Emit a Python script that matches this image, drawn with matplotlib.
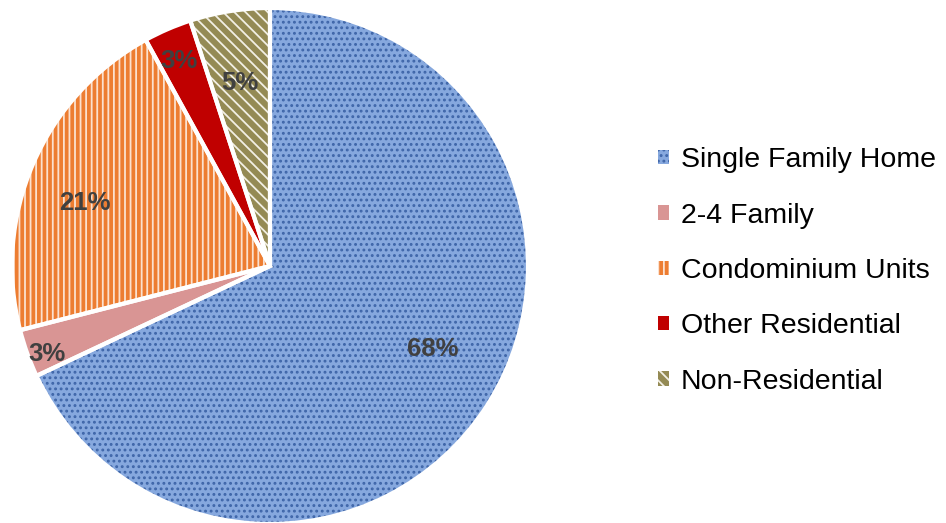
import matplotlib
matplotlib.use("Agg")
import matplotlib.pyplot as plt
from matplotlib.patches import Patch
import numpy as np

# data
categorias = ["Single Family Home", "2-4 Family", "Condominium Units",
              "Other Residential", "Non-Residential"]
porcentajes = [68, 3, 21, 3, 5]

# estilo por sector
relleno = ["#86A8DE", "#D99594", "#ED7D31", "#C00000", "#948A54"]
trama = ["...", "", "|||", "", "\\\\\\"]
color_trama = ["#3E65A8", "#D99594", "#FBE1CF", "#C00000", "#F2EFE4"]
dist_etq = [0.71, 0.93, 0.76, 0.87, 0.72]
giro_etq = [5.4, 1.7, 4.6, 0.6, 0.3]   # ajuste fino del angulo (grados)

plt.rcParams["font.family"] = ["Liberation Sans", "DejaVu Sans"]
plt.rcParams["hatch.linewidth"] = 1.3

fig = plt.figure(figsize=(9.46, 5.23), dpi=100, facecolor="white")
ax = fig.add_axes([12 / 946, -1 / 523, 516 / 946, 516 / 523])

wedges, _ = ax.pie(porcentajes, startangle=90, counterclock=False,
                   colors=relleno, radius=1.0,
                   wedgeprops=dict(linewidth=0))
for w, h, hc in zip(wedges, trama, color_trama):
    if h:
        w.set_hatch(h)
        w.set_edgecolor(hc)
        w.set_linewidth(0)

# bordes blancos encima
ax.pie(porcentajes, startangle=90, counterclock=False, radius=1.0,
       wedgeprops=dict(fill=False, edgecolor="white", linewidth=3))

# etiquetas de porcentaje
ang0 = 90.0
for v, d, g in zip(porcentajes, dist_etq, giro_etq):
    span = v / sum(porcentajes) * 360
    mid = np.deg2rad(ang0 - span / 2 + g)
    ax.text(d * np.cos(mid), d * np.sin(mid), f"{v}%", ha="center",
            va="center", fontsize=18.5, fontweight="bold", color="#404040")
    ang0 -= span

ax.set_xlim(-1, 1)
ax.set_ylim(-1, 1)
ax.set_aspect("equal")
ax.axis("off")

handles = [Patch(facecolor=f, hatch=h if h else None, edgecolor=hc, linewidth=0)
           for f, h, hc in zip(relleno, trama, color_trama)]
fig.legend(handles, categorias, loc="center left",
           bbox_to_anchor=(658 / 946, 252 / 523), frameon=False,
           fontsize=20.5, handlelength=0.4, handleheight=0.4,
           handletextpad=0.4, labelspacing=1.03, borderpad=0,
           borderaxespad=0)

fig.savefig("out.png", dpi=100, facecolor="white")
